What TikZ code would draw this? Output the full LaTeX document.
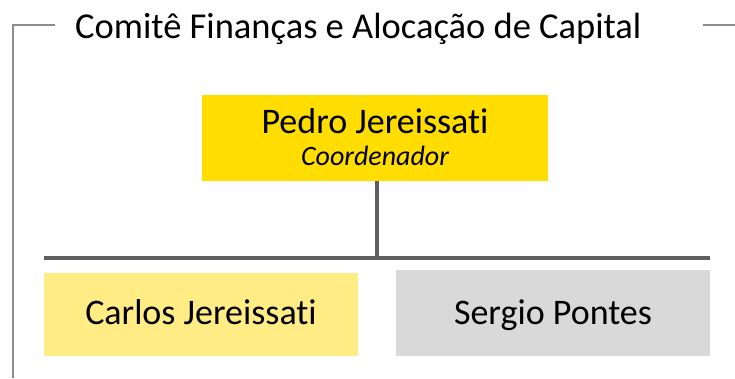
\documentclass[tikz,border=0pt]{standalone}
\usepackage{fontspec}
\setmainfont{Carlito}[Ligatures=NoCommon]
\definecolor{frameg}{HTML}{8C8C8C}
\definecolor{lineg}{HTML}{5F5F5F}
\definecolor{ybright}{HTML}{FFDD00}
\definecolor{ylight}{HTML}{FFEC84}
\definecolor{gbox}{HTML}{D9D9D9}
\tikzset{
  member/.style={rectangle, inner sep=0pt, minimum height=86pt, text=black},
  conn/.style={draw=lineg, line width=4pt},
  frameline/.style={draw=frameg, line width=2pt},
  label36/.style={anchor=base, inner sep=0pt, font=\fontsize{36}{42}\selectfont},
}
\begin{document}
\begin{tikzpicture}[x=1pt,y=-1pt]
\useasboundingbox (0,0) rectangle (735,378);
% frame
\coordinate (fl) at (12.5,378);
\coordinate (ftl) at (12.5,25);
\coordinate (ftr) at (55,25);
\coordinate (rs) at (703,25);
\coordinate (re) at (735,25);
\draw[frameline] (fl) -- (ftl) -- (ftr);
\draw[frameline] (rs) -- (re);
\node[anchor=base west, inner sep=0pt, font=\fontsize{36.5}{42}\selectfont] (title) at (75,38) {Comitê Finanças e Alocação de Capital};
% top box
\node[member, fill=ybright, minimum width=346pt] (pedro) at (375,138) {};
\node[label36] (pname) at (375,133) {Pedro Jereissati};
\node[anchor=base, inner sep=0pt, font=\fontsize{28}{32}\selectfont\itshape] (prole) at (375,165) {Coordenador};
% bar
\coordinate (bl) at (44,257.5);
\coordinate (br) at (710,257.5);
\coordinate (bm) at (376.5,257.5);
\draw[conn] (bl) -- (br);
\draw[conn] (pedro.south -| bm) -- (bm);
% members
\node[member, fill=ylight, minimum width=314pt, minimum height=83pt] (carlos) at (201,314.5) {};
\node[label36] (cname) at (201,324) {Carlos Jereissati};
\node[member, fill=gbox, minimum width=314pt] (sergio) at (553,313) {};
\node[label36] (sname) at (553,324) {Sergio Pontes};
\end{tikzpicture}
\end{document}
